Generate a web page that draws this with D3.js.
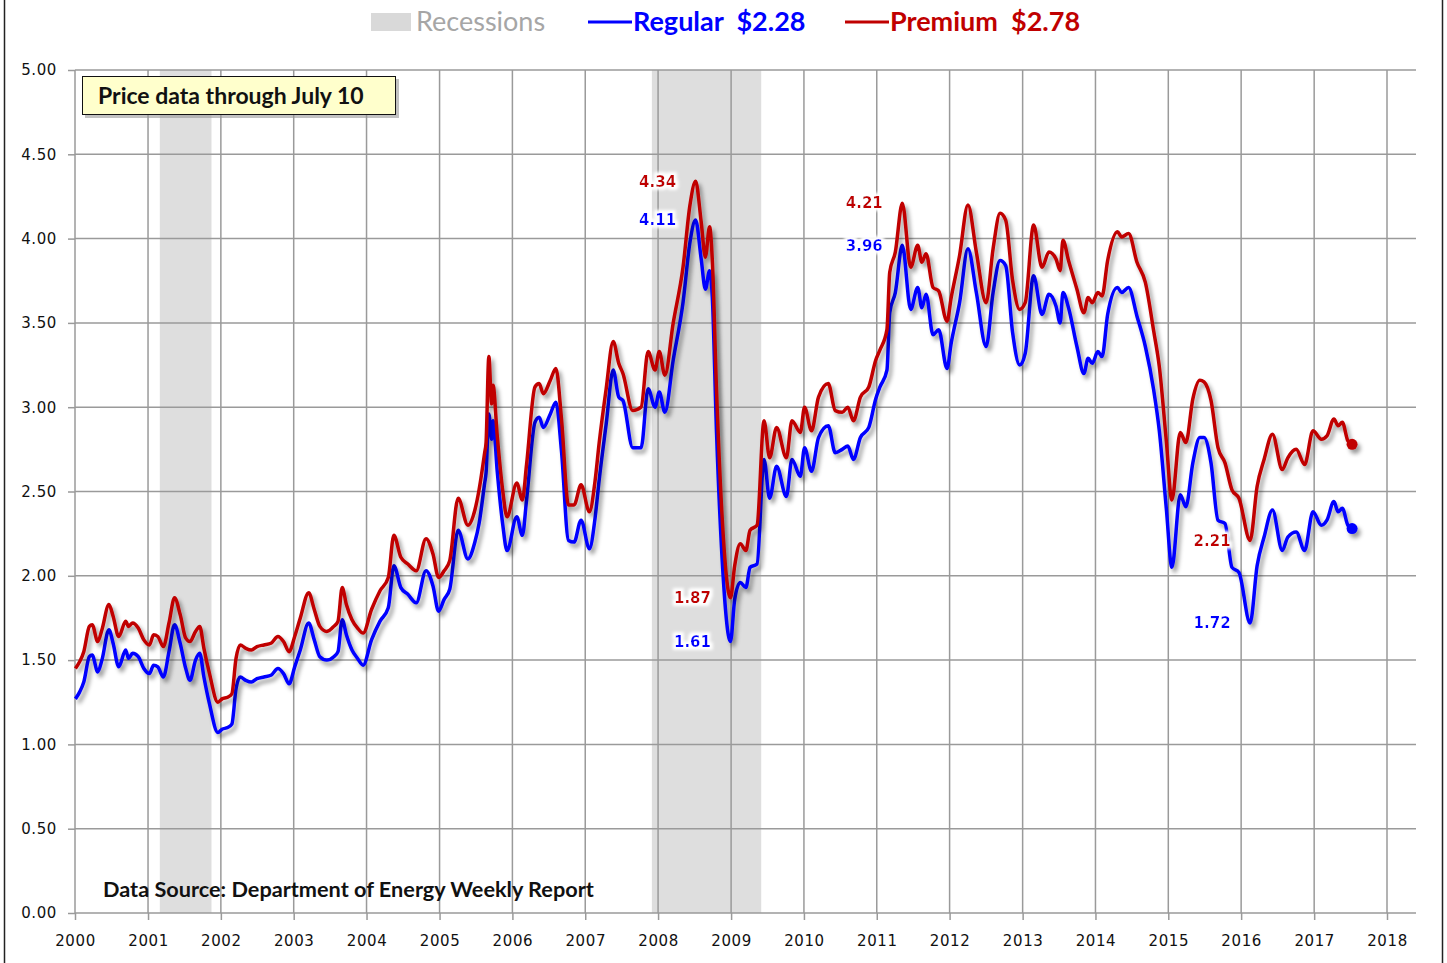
<!DOCTYPE html>
<html>
<head>
<meta charset="utf-8">
<script src="https://cdn.jsdelivr.net/npm/d3@7"></script>
<style>
  body { margin: 0; background: #fff; }
  svg { display: block; }
  .tick text { font-family: "DejaVu Sans", Verdana, sans-serif; }
</style>
</head>
<body>
<svg id="chart" width="1447" height="963"></svg>
<script>
// weekly retail gasoline, $/gal
var dates = [
  "2000-01-03","2000-01-24","2000-02-14","2000-03-13","2000-03-27","2000-04-24","2000-05-15","2000-06-19","2000-07-10","2000-08-07","2000-09-11","2000-09-25","2000-10-16","2000-11-13","2000-12-11",
  "2001-01-08","2001-01-29","2001-02-19","2001-03-19","2001-04-16","2001-05-14","2001-06-11","2001-07-09","2001-07-30","2001-08-27","2001-09-17","2001-10-08","2001-11-05","2001-12-17",
  "2002-01-07","2002-02-04","2002-02-25","2002-03-18","2002-04-08","2002-05-06","2002-06-03","2002-07-01","2002-08-05","2002-09-09","2002-10-14","2002-11-11","2002-12-09",
  "2003-01-06","2003-02-03","2003-03-17","2003-04-14","2003-05-12","2003-06-16","2003-07-21","2003-08-11","2003-09-01","2003-09-22","2003-10-20","2003-11-17","2003-12-15",
  "2004-01-26","2004-03-08","2004-04-19","2004-05-17","2004-06-21","2004-07-26","2004-09-06","2004-10-25","2004-11-29","2004-12-27",
  "2005-01-24","2005-02-21","2005-04-04","2005-05-23","2005-06-27","2005-07-18","2005-08-15","2005-08-22","2005-09-05","2005-09-19","2005-09-26","2005-10-17","2005-11-14","2005-12-05",
  "2006-01-23","2006-02-20","2006-03-13","2006-04-24","2006-05-15","2006-06-05","2006-07-10","2006-08-07","2006-09-04","2006-10-09","2006-11-06","2006-12-11",
  "2007-01-22","2007-02-19","2007-03-12","2007-04-16","2007-05-21","2007-06-18","2007-07-09","2007-08-27","2007-10-08","2007-11-12","2007-12-17",
  "2008-01-07","2008-02-04","2008-03-17","2008-05-05","2008-06-09","2008-07-07","2008-08-04","2008-08-25","2008-09-15","2008-09-29","2008-10-20","2008-11-17","2008-12-29",
  "2009-01-19","2009-02-16","2009-03-16","2009-04-06","2009-05-11","2009-06-15","2009-07-13","2009-08-17","2009-10-05","2009-11-02","2009-12-14",
  "2010-01-04","2010-02-08","2010-03-15","2010-05-03","2010-06-07","2010-07-12","2010-08-09","2010-09-06","2010-10-11","2010-11-22","2010-12-27",
  "2011-01-17","2011-02-21","2011-03-07","2011-04-04","2011-05-09","2011-06-20","2011-07-25","2011-08-15","2011-09-05","2011-10-10","2011-11-07","2011-12-19",
  "2012-01-09","2012-02-20","2012-04-02","2012-05-14","2012-07-02","2012-08-06","2012-09-10","2012-10-08","2012-11-12","2012-12-17",
  "2013-01-14","2013-02-25","2013-04-08","2013-05-13","2013-06-17","2013-07-08","2013-07-22","2013-08-19","2013-09-30","2013-11-04","2013-11-25","2013-12-16",
  "2014-01-13","2014-02-03","2014-03-03","2014-04-21","2014-05-12","2014-06-16","2014-07-28","2014-09-08","2014-10-20","2014-11-17","2014-12-22",
  "2015-01-19","2015-03-02","2015-03-30","2015-05-04","2015-06-08","2015-06-29","2015-08-03","2015-09-07","2015-10-12","2015-11-16","2015-12-21",
  "2016-02-15","2016-03-21","2016-04-25","2016-06-06","2016-07-25","2016-08-22","2016-10-03","2016-11-14","2016-12-26",
  "2017-02-06","2017-03-06","2017-04-10","2017-05-01","2017-05-22","2017-06-19","2017-07-10"
];
var regular = [
  1.27,1.31,1.37,1.52,1.53,1.43,1.50,1.68,1.60,1.46,1.56,1.51,1.54,1.52,1.45,
  1.42,1.47,1.46,1.40,1.55,1.71,1.60,1.45,1.38,1.50,1.54,1.40,1.24,1.07,
  1.09,1.10,1.12,1.33,1.40,1.38,1.37,1.39,1.40,1.41,1.45,1.42,1.36,
  1.46,1.56,1.72,1.62,1.52,1.50,1.52,1.55,1.74,1.65,1.56,1.51,1.47,
  1.62,1.73,1.81,2.06,1.93,1.89,1.84,2.03,1.94,1.79,
  1.86,1.92,2.27,2.10,2.20,2.31,2.55,2.61,2.96,2.81,2.92,2.62,2.30,2.15,
  2.35,2.24,2.45,2.91,2.94,2.88,2.96,3.03,2.74,2.21,2.20,2.33,
  2.16,2.34,2.57,2.90,3.22,3.06,3.04,2.76,2.76,3.11,3.00,
  3.09,2.97,3.28,3.62,3.98,4.11,3.88,3.70,3.81,3.65,2.85,2.10,1.61,
  1.86,1.96,1.93,2.05,2.07,2.69,2.46,2.65,2.47,2.69,2.59,
  2.76,2.62,2.82,2.89,2.73,2.75,2.77,2.69,2.82,2.88,3.05,
  3.12,3.22,3.56,3.68,3.96,3.58,3.71,3.59,3.67,3.43,3.46,3.23,
  3.38,3.62,3.94,3.68,3.36,3.68,3.87,3.84,3.44,3.25,
  3.32,3.78,3.55,3.67,3.60,3.50,3.68,3.59,3.36,3.20,3.29,3.26,
  3.33,3.30,3.55,3.71,3.68,3.71,3.54,3.36,3.10,2.86,2.40,
  2.05,2.48,2.41,2.67,2.82,2.82,2.67,2.33,2.31,2.05,2.02,
  1.72,2.06,2.23,2.39,2.15,2.23,2.26,2.15,2.38,
  2.30,2.33,2.44,2.38,2.40,2.30,2.28
];
var premium = [
  1.45,1.49,1.55,1.70,1.71,1.61,1.68,1.83,1.76,1.64,1.73,1.70,1.72,1.69,1.62,
  1.59,1.65,1.64,1.58,1.72,1.87,1.77,1.63,1.61,1.67,1.70,1.57,1.42,1.25,
  1.27,1.28,1.30,1.51,1.59,1.57,1.56,1.58,1.59,1.60,1.64,1.61,1.55,
  1.64,1.75,1.90,1.80,1.70,1.67,1.70,1.73,1.93,1.83,1.74,1.69,1.66,
  1.80,1.91,1.99,2.24,2.11,2.07,2.03,2.22,2.13,1.99,
  2.03,2.09,2.46,2.30,2.39,2.51,2.73,2.79,3.30,3.02,3.13,2.83,2.50,2.35,
  2.55,2.45,2.66,3.12,3.14,3.08,3.16,3.23,2.93,2.42,2.42,2.54,
  2.38,2.56,2.79,3.11,3.39,3.26,3.20,2.98,3.00,3.33,3.22,
  3.33,3.19,3.50,3.83,4.20,4.34,4.10,3.89,4.07,3.87,3.10,2.35,1.87,
  2.06,2.19,2.15,2.27,2.30,2.92,2.70,2.88,2.70,2.92,2.85,
  3.00,2.86,3.06,3.14,2.98,2.97,3.00,2.92,3.06,3.12,3.28,
  3.34,3.46,3.80,3.92,4.21,3.83,3.96,3.86,3.91,3.71,3.69,3.51,
  3.65,3.90,4.20,3.92,3.62,3.94,4.15,4.11,3.75,3.58,
  3.62,4.08,3.83,3.92,3.88,3.81,3.99,3.87,3.70,3.56,3.65,3.62,
  3.68,3.66,3.87,4.04,4.01,4.03,3.86,3.74,3.45,3.24,2.80,
  2.45,2.85,2.79,3.05,3.16,3.15,3.04,2.76,2.67,2.51,2.46,
  2.21,2.53,2.69,2.84,2.63,2.70,2.75,2.66,2.86,
  2.81,2.83,2.93,2.89,2.91,2.80,2.78
];

var recessions = [["2001-03-01", "2001-11-15"], ["2007-12-01", "2009-06-01"]];
var yearTicks = d3.range(2000, 2019);
var priceTicks = [0, 0.5, 1, 1.5, 2, 2.5, 3, 3.5, 4, 4.5, 5];
// peak / trough callouts: [date, series]
var callouts = [
  ["2008-07-07", "premium"], ["2008-07-07", "regular"],
  ["2011-05-09", "premium"], ["2011-05-09", "regular"],
  ["2008-12-29", "premium"], ["2008-12-29", "regular"],
  ["2016-02-15", "premium"], ["2016-02-15", "regular"]
];

var parse = d3.timeParse("%Y-%m-%d");
var colors = { regular: "#0000ff", premium: "#c00000" };
var series = [
  { key: "regular", name: "Regular", values: regular },
  { key: "premium", name: "Premium", values: premium }
];

var svg = d3.select("#chart");
var plotL = 75, plotR = 1416, plotT = 70, plotB = 913;

var x = d3.scaleTime()
  .domain([new Date(2000, 0, 1), new Date(2018, 0, 1)])
  .range([plotL, 1387]);
var y = d3.scaleLinear().domain([0, 5]).range([plotB, plotT]);

var defs = svg.append("defs");
var f = defs.append("filter").attr("id", "shadow")
  .attr("x", "-5%").attr("y", "-5%").attr("width", "110%").attr("height", "110%");
f.append("feDropShadow").attr("dx", 3).attr("dy", 4).attr("stdDeviation", 2.2)
  .attr("flood-color", "#000").attr("flood-opacity", 0.4);
var halo = defs.append("filter").attr("id", "halo")
  .attr("x", "-20%").attr("y", "-30%").attr("width", "140%").attr("height", "160%");
halo.append("feMorphology").attr("in", "SourceAlpha").attr("operator", "dilate").attr("radius", 3).attr("result", "d");
halo.append("feGaussianBlur").attr("in", "d").attr("stdDeviation", 1.5).attr("result", "b");
halo.append("feFlood").attr("flood-color", "#fff");
halo.append("feComposite").attr("in2", "b").attr("operator", "in").attr("result", "w");
var hm = halo.append("feMerge");
hm.append("feMergeNode").attr("in", "w");
hm.append("feMergeNode").attr("in", "SourceGraphic");

// frame
svg.append("line").attr("x1", 4.5).attr("x2", 4.5).attr("y1", 0).attr("y2", 963)
  .attr("stroke", "#222").attr("stroke-width", 1.5);
svg.append("line").attr("x1", 1442.5).attr("x2", 1442.5).attr("y1", 0).attr("y2", 963)
  .attr("stroke", "#222").attr("stroke-width", 1.5);

// recession bands
svg.selectAll("rect.rec")
  .data(recessions)
  .enter().append("rect")
  .attr("class", "rec")
  .attr("x", function(d){ return x(parse(d[0])); })
  .attr("width", function(d){ return x(parse(d[1])) - x(parse(d[0])); })
  .attr("y", plotT)
  .attr("height", plotB - plotT)
  .attr("fill", "#dedede");

// grid
svg.append("g").selectAll("line")
  .data(priceTicks)
  .enter().append("line")
  .attr("x1", plotL).attr("x2", plotR)
  .attr("y1", function(d){ return y(d); }).attr("y2", function(d){ return y(d); })
  .attr("stroke", "#9a9a9a").attr("stroke-width", 1.5);
svg.append("g").selectAll("line")
  .data(yearTicks)
  .enter().append("line")
  .attr("x1", function(d){ return x(new Date(d, 0, 1)); })
  .attr("x2", function(d){ return x(new Date(d, 0, 1)); })
  .attr("y1", plotT).attr("y2", plotB)
  .attr("stroke", "#9a9a9a").attr("stroke-width", 1.5);

// axes
var xAxis = svg.append("g")
  .attr("transform", "translate(0," + plotB + ")")
  .call(d3.axisBottom(x)
    .tickValues(yearTicks.map(function(d){ return new Date(d, 0, 1); }))
    .tickFormat(d3.timeFormat("%Y"))
    .tickSize(7).tickPadding(15));
var yAxis = svg.append("g")
  .attr("transform", "translate(" + plotL + ",0)")
  .call(d3.axisLeft(y).tickValues(priceTicks).tickFormat(d3.format(".2f"))
    .tickSize(7).tickPadding(11));
[xAxis, yAxis].forEach(function(a){
  a.select(".domain").remove();
  a.selectAll(".tick line").attr("stroke", "#9a9a9a").attr("stroke-width", 1.5);
  a.selectAll(".tick text").attr("fill", "#111").style("font-size", "15px")
    .style("letter-spacing", "0.6px");
});

// lines
var line = d3.line()
  .curve(d3.curveMonotoneX)
  .x(function(d){ return x(d.date); })
  .y(function(d){ return y(d.value); });

series.forEach(function(s){
  s.points = dates.map(function(d, i){ return { date: parse(d), value: s.values[i] }; });
  var g = svg.append("g").attr("filter", "url(#shadow)");
  g.append("path")
    .datum(s.points)
    .attr("d", line)
    .attr("fill", "none")
    .attr("stroke", colors[s.key])
    .attr("stroke-width", 3.5)
    .attr("stroke-linejoin", "round");
  var last = s.points[s.points.length - 1];
  g.append("circle")
    .attr("cx", x(last.date)).attr("cy", y(last.value)).attr("r", 5.5)
    .attr("fill", colors[s.key]);
});

// callout labels
svg.append("g").selectAll("text")
  .data(callouts)
  .enter().append("text")
  .attr("x", function(d){ return x(parse(d[0])) - 38; })
  .attr("y", function(d){
    var i = dates.indexOf(d[0]);
    var v = d[1] === "regular" ? regular[i] : premium[i];
    return y(v);
  })
  .attr("dy", "0.35em")
  .attr("text-anchor", "middle")
  .attr("filter", "url(#halo)")
  .style("font-family", "'DejaVu Sans', Verdana, sans-serif")
  .style("font-weight", "bold")
  .style("font-size", "15px")
  .attr("fill", function(d){ return colors[d[1]]; })
  .text(function(d){
    var i = dates.indexOf(d[0]);
    return d3.format(".2f")(d[1] === "regular" ? regular[i] : premium[i]);
  });

// note box
var note = svg.append("g");
note.append("rect").attr("x", 85).attr("y", 79).attr("width", 314).attr("height", 39)
  .attr("fill", "#999").attr("opacity", 0.6);
note.append("rect").attr("x", 82.5).attr("y", 76.5).attr("width", 313).attr("height", 38)
  .attr("fill", "#ffffcc").attr("stroke", "#111").attr("stroke-width", 1);
note.append("text").attr("x", 98).attr("y", 104)
  .style("font-family", "Lato, sans-serif").style("font-weight", "bold").style("font-size", "23px")
  .attr("fill", "#111").text("Price data through July 10");

svg.append("text").attr("x", 103).attr("y", 897)
  .style("font-family", "Lato, sans-serif").style("font-weight", "bold").style("font-size", "21.7px")
  .attr("fill", "#111").text("Data Source: Department of Energy Weekly Report");

// legend
var lg = svg.append("g").style("font-family", "Lato, sans-serif").style("font-size", "27px").style("font-weight", "bold");
lg.append("rect").attr("x", 371).attr("y", 13).attr("width", 40).attr("height", 18).attr("fill", "#d9d9d9");
lg.append("text").attr("x", 416).attr("y", 31).attr("fill", "#a6a6a6").style("font-weight", "normal").text("Recessions");
var legendX = [588, 845];
series.forEach(function(s, i){
  var last = s.values[s.values.length - 1];
  lg.append("line").attr("x1", legendX[i]).attr("x2", legendX[i] + 44).attr("y1", 22).attr("y2", 22)
    .attr("stroke", colors[s.key]).attr("stroke-width", 3);
  lg.append("text").attr("x", legendX[i] + 45).attr("y", 31).attr("fill", colors[s.key])
    .attr("xml:space", "preserve")
    .text(s.name + "  $" + d3.format(".2f")(last));
});
</script>
</body>
</html>
